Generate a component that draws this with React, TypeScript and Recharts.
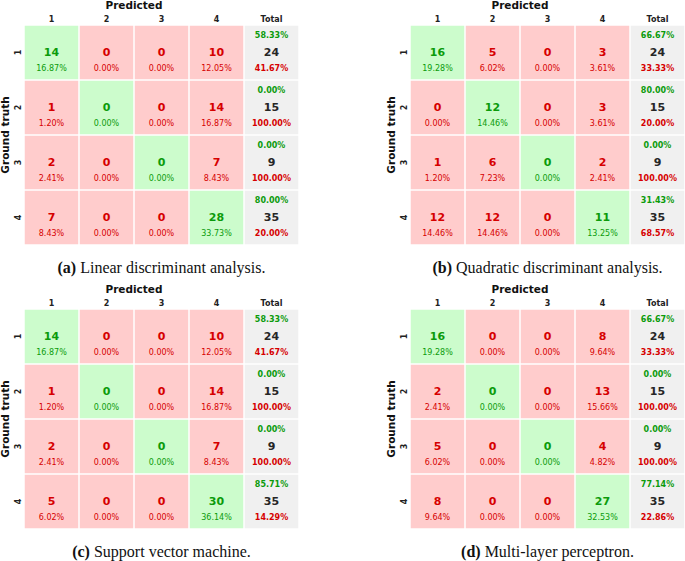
import { ScatterChart, Scatter, XAxis, YAxis } from 'recharts'

const COL_LABELS = ['1', '2', '3', '4', 'Total']
const ROW_LABELS = ['1', '2', '3', '4']

const LDA = [
  [14, 0, 0, 10],
  [1, 0, 0, 14],
  [2, 0, 0, 7],
  [7, 0, 0, 28],
]
const QDA = [
  [16, 5, 0, 3],
  [0, 12, 0, 3],
  [1, 6, 0, 2],
  [12, 12, 0, 11],
]
const SVM = [
  [14, 0, 0, 10],
  [1, 0, 0, 14],
  [2, 0, 0, 7],
  [5, 0, 0, 30],
]
const MLP = [
  [16, 0, 0, 8],
  [2, 0, 0, 13],
  [5, 0, 0, 4],
  [8, 0, 0, 27],
]

const PANELS = [
  { tag: '(a)', title: 'Linear discriminant analysis.', matrix: LDA, left: 0, top: 0 },
  { tag: '(b)', title: 'Quadratic discriminant analysis.', matrix: QDA, left: 386, top: 0 },
  { tag: '(c)', title: 'Support vector machine.', matrix: SVM, left: 0, top: 284 },
  { tag: '(d)', title: 'Multi-layer perceptron.', matrix: MLP, left: 386, top: 284 },
]

const GREEN_BG = '#ccfccc'
const RED_BG = '#ffcccc'
const GRAY_BG = '#f0f0f0'
const GREEN_TXT = '#0b9b0b'
const RED_TXT = '#d60000'
const DARK_TXT = '#262626'
const FONT = '"DejaVu Sans", sans-serif'

const W = 300
const H = 250
const Y_AXIS_W = 24
const X_AXIS_H = 25
const MARGIN = { top: 0, right: 1, bottom: 5, left: 0 }
const CELL_W = (W - Y_AXIS_W - MARGIN.left - MARGIN.right) / COL_LABELS.length
const CELL_H = (H - X_AXIS_H - MARGIN.top - MARGIN.bottom) / ROW_LABELS.length

type CellDatum = {
  x: number
  y: number
  kind: 'diag' | 'off' | 'total'
  count: number
  pct: number
  good: number
  bad: number
}

function buildCells(m: number[][]): CellDatum[] {
  const total = m.flat().reduce((s, v) => s + v, 0)
  const out: CellDatum[] = []
  m.forEach((row, r) => {
    const rowSum = row.reduce((s, v) => s + v, 0)
    row.forEach((v, c) => {
      out.push({ x: c + 0.5, y: r + 0.5, kind: r === c ? 'diag' : 'off', count: v, pct: (v / total) * 100, good: 0, bad: 0 })
    })
    const good = rowSum ? (row[r] / rowSum) * 100 : 0
    out.push({ x: row.length + 0.5, y: r + 0.5, kind: 'total', count: rowSum, pct: 0, good, bad: 100 - good })
  })
  return out
}

function CellShape(props: any) {
  const { cx, cy, payload } = props
  const d = payload as CellDatum
  const bg = d.kind === 'diag' ? GREEN_BG : d.kind === 'off' ? RED_BG : GRAY_BG
  const rect = (
    <rect x={cx - CELL_W / 2 + 0.75} y={cy - CELL_H / 2 + 0.75} width={CELL_W - 1.5} height={CELL_H - 1.5} fill={bg} />
  )
  if (d.kind === 'total') {
    return (
      <g fontFamily={FONT} textAnchor="middle">
        {rect}
        <text x={cx} y={cy - 14.6} fontSize={8} fontWeight="bold" fill={GREEN_TXT}>{d.good.toFixed(2)}%</text>
        <text x={cx} y={cy + 3.3} fontSize={11} fontWeight="bold" fill={DARK_TXT}>{d.count}</text>
        <text x={cx} y={cy + 18.7} fontSize={8} fontWeight="bold" fill={RED_TXT}>{d.bad.toFixed(2)}%</text>
      </g>
    )
  }
  const color = d.kind === 'diag' ? GREEN_TXT : RED_TXT
  return (
    <g fontFamily={FONT} textAnchor="middle">
      {rect}
      <text x={cx} y={cy + 3.3} fontSize={11} fontWeight="bold" fill={color}>{d.count}</text>
      <text x={cx} y={cy + 18.7} fontSize={8} fill={color}>{d.pct.toFixed(2)}%</text>
    </g>
  )
}

// tick text sits just outside the plot edge
const COL_TICK_Y = MARGIN.top + X_AXIS_H - 3.5
const ROW_TICK_X = MARGIN.left + Y_AXIS_W - 3

function ColTick({ x, payload }: any) {
  return (
    <text x={x} y={COL_TICK_Y} textAnchor="middle" fontFamily={FONT} fontSize={8} fontWeight="bold" fill="#222">
      {COL_LABELS[Math.floor(payload.value)]}
    </text>
  )
}

function RowTick({ y, payload }: any) {
  const tx = ROW_TICK_X
  return (
    <text x={tx} y={y} transform={`rotate(-90, ${tx}, ${y})`} textAnchor="middle" fontFamily={FONT} fontSize={8} fontWeight="bold" fill="#222">
      {ROW_LABELS[Math.floor(payload.value)]}
    </text>
  )
}

function PredictedLabel({ viewBox }: any) {
  const { x, y, width } = viewBox
  const cx = x + (width * (COL_LABELS.length - 1)) / COL_LABELS.length / 2
  return (
    <text x={cx} y={y + 9} textAnchor="middle" fontFamily={FONT} fontSize={10.5} fontWeight="bold" fill="#111">
      Predicted
    </text>
  )
}

function TruthLabel({ viewBox }: any) {
  const { y, height } = viewBox
  const tx = MARGIN.left + 9
  const ty = y + height / 2
  return (
    <text x={tx} y={ty} transform={`rotate(-90, ${tx}, ${ty})`} textAnchor="middle" fontFamily={FONT} fontSize={10.5} fontWeight="bold" fill="#111">
      Ground truth
    </text>
  )
}

function Matrix({ matrix }: { matrix: number[][] }) {
  const cells = buildCells(matrix)
  return (
    <ScatterChart width={W} height={H} margin={MARGIN}>
      <XAxis
        type="number"
        dataKey="x"
        orientation="top"
        domain={[0, COL_LABELS.length]}
        ticks={COL_LABELS.map((_, i) => i + 0.5)}
        interval={0}
        axisLine={false}
        tickLine={false}
        height={X_AXIS_H}
        tick={<ColTick />}
        label={<PredictedLabel />}
      />
      <YAxis
        type="number"
        dataKey="y"
        reversed
        domain={[0, ROW_LABELS.length]}
        ticks={ROW_LABELS.map((_, i) => i + 0.5)}
        interval={0}
        axisLine={false}
        tickLine={false}
        width={Y_AXIS_W}
        tick={<RowTick />}
        label={<TruthLabel />}
      />
      <Scatter data={cells} shape={<CellShape />} isAnimationActive={false} />
    </ScatterChart>
  )
}

export default function App() {
  return (
    <div style={{ position: 'absolute', left: 0, top: 0, width: 685, height: 561, background: '#fff' }}>
      {PANELS.map((p) => (
        <div key={p.tag}>
          <div style={{ position: 'absolute', left: p.left, top: p.top }}>
            <Matrix matrix={p.matrix} />
          </div>
          <div
            style={{
              position: 'absolute',
              left: p.left + Y_AXIS_W,
              top: p.top + 259,
              width: CELL_W * COL_LABELS.length,
              textAlign: 'center',
              fontFamily: '"Liberation Serif", serif',
              fontSize: 16,
              lineHeight: '18px',
              color: '#111',
              whiteSpace: 'nowrap',
            }}
          >
            <b>{p.tag}</b> {p.title}
          </div>
        </div>
      ))}
    </div>
  )
}
